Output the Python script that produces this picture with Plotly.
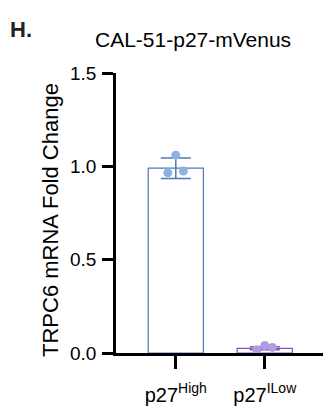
import plotly.graph_objects as go

categories = ["p27<sup>High</sup>", "p27<sup>ILow</sup>"]
means = [0.99, 0.025]
sds = [0.055, 0.008]
points = [[0.965, 1.06, 0.975], [0.018, 0.04, 0.03]]
jitter = [-0.09, 0.0, 0.085]
edge_colors = ["#4b7bb8", "#7a5cb6"]
dot_colors = ["#8fb1e0", "#b49ce2"]

xpos = list(range(len(categories)))
fig = go.Figure()
for i in xpos:
    fig.add_trace(go.Bar(
        x=[xpos[i]], y=[means[i]], width=0.62,
        marker=dict(color="white", line=dict(color=edge_colors[i], width=1.2)),
        error_y=dict(type="data", array=[sds[i]], color=edge_colors[i], thickness=1.5, width=15),
        showlegend=False))
    fig.add_trace(go.Scatter(
        x=[xpos[i] + j for j in jitter], y=points[i], mode="markers",
        marker=dict(color=dot_colors[i], size=9), showlegend=False))

fig.update_layout(
    width=323, height=407,
    margin=dict(l=116, r=0, t=73, b=54),
    plot_bgcolor="white", paper_bgcolor="white",
    font=dict(family="Liberation Sans, Arial", color="black", size=19),
    barmode="overlay",
    xaxis=dict(range=[-0.672, 1.654], tickvals=xpos, ticktext=categories,
               showline=True, linecolor="black", linewidth=2.5,
               ticks="outside", ticklen=13, tickwidth=2.5, tickcolor="black",
               ticklabelstandoff=9,
               showgrid=False, zeroline=False, tickfont=dict(size=20)),
    yaxis=dict(range=[0, 1.5], tickvals=[0, 0.5, 1.0, 1.5],
               ticktext=["0.0", "0.5", "1.0", "1.5"],
               showline=True, linecolor="black", linewidth=2.5,
               ticks="outside", ticklen=11, tickwidth=2.5, tickcolor="black",
               ticklabelstandoff=2,
               showgrid=False, zeroline=False, tickfont=dict(size=19)),
    annotations=[
        dict(text="<b>H.</b>", x=-0.522, y=1.154, xref="paper", yref="paper",
             xanchor="left", yanchor="middle", showarrow=False, font=dict(size=22, color="#222")),
        dict(text="CAL-51-p27-mVenus", x=0.372, y=1.118, xref="paper", yref="paper",
             xanchor="center", yanchor="middle", showarrow=False, font=dict(size=21)),
        dict(text="TRPC6 mRNA Fold Change", x=-0.319, y=0.475, xref="paper", yref="paper",
             xanchor="center", yanchor="middle", textangle=-90, showarrow=False,
             font=dict(size=22)),
    ],
)
fig.write_html("out.html")
